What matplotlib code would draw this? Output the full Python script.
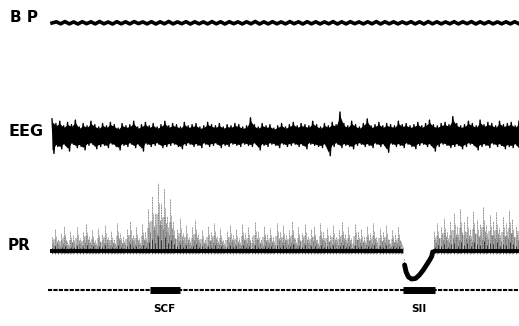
import numpy as np
import matplotlib
matplotlib.use("Agg")
import matplotlib.pyplot as plt

T_END = 60.0

# blood pressure pulse: trough / peak per half beat
bp = [0.0, 1.2, -0.8, 1.4, -0.9, 1.1, -1.0, 1.3, -0.7, 1.2, -0.9, 1.5, -0.8, 1.0,
      -1.0, 1.3, -0.8, 1.2, -0.9, 1.4, -0.6, 1.1, -0.9, 1.3, -1.0, 1.2, -0.8, 1.5,
      -0.9, 1.1, -0.7, 1.3, -1.0, 1.2, -0.8, 1.1, -0.9, 1.4, -0.8, 1.2, -1.0, 1.3,
      -0.7, 1.1, -0.9, 1.2, -0.8, 1.5, -1.0, 1.2, -0.9, 1.3, -0.8, 1.1, -0.9, 1.4,
      -0.7, 1.2, -1.0, 1.3, -0.8, 1.2, -0.9, 1.1, -0.8, 1.4, -1.0, 1.2, -0.9, 1.3,
      -0.7, 1.1, -0.9, 1.2, -0.8, 1.4, -1.0, 1.3, -0.8, 1.2, -0.9, 1.1, -0.7, 1.3,
      -0.9, 1.2, -1.0, 1.4, -0.8, 1.2, -0.9, 1.1, -0.8, 1.3, -0.9, 1.2, -0.7, 1.4,
      -1.0, 1.2, -0.8, 1.3, -0.9, 1.1, -0.8, 1.2, -0.9, 1.3, -0.8]

# EEG envelope every 0.5 s (upper excursion, lower excursion)
eeg_upper = [14, 10, 12, 8, 11, 9, 13, 7, 10, 8, 12, 9, 7, 10, 8, 11, 9, 6, 10, 8,
             9, 12, 7, 9, 11, 8, 10, 7, 9, 12, 8, 10, 9, 7, 11, 8, 9, 10, 7, 8,
             11, 9, 8, 10, 7, 9, 8, 10, 9, 7, 8, 15, 9, 7, 10, 8, 9, 6, 8, 10,
             7, 9, 11, 8, 10, 9, 8, 12, 9, 7, 10, 8, 11, 9, 20, 10, 8, 12, 9, 7,
             10, 14, 8, 9, 11, 8, 10, 9, 8, 12, 9, 10, 8, 9, 11, 8, 10, 13, 9, 8,
             10, 11, 9, 16, 10, 8, 9, 12, 10, 8, 13, 9, 11, 10, 8, 12, 9, 10, 11, 8, 12]
eeg_lower = [16, 10, 12, 9, 14, 8, 11, 10, 13, 9, 8, 12, 10, 9, 11, 8, 10, 13, 9, 10,
             8, 11, 9, 14, 8, 10, 9, 8, 11, 10, 9, 8, 10, 12, 9, 8, 10, 9, 11, 8,
             10, 9, 8, 11, 9, 10, 8, 9, 10, 8, 9, 10, 8, 13, 9, 10, 8, 9, 11, 8,
             10, 9, 8, 10, 9, 12, 8, 9, 10, 11, 9, 18, 10, 8, 11, 9, 10, 12, 9, 8,
             10, 9, 11, 8, 10, 9, 15, 8, 10, 9, 11, 8, 10, 12, 9, 8, 10, 9, 14, 10,
             8, 9, 11, 10, 9, 12, 10, 8, 9, 13, 10, 9, 11, 8, 10, 9, 12, 10, 11, 9, 14]

# pulse rate pen strokes, before and after the SII stimulus
pr_left = [14, 22, 12, 18, 25, 10, 20, 16, 24, 13, 19, 27, 15, 21, 11, 23, 17, 26, 14, 20,
           12, 28, 18, 15, 22, 30, 16, 24, 13, 27, 19, 42, 55, 38, 68, 48, 62, 35, 52, 30,
           22, 33, 18, 26, 14, 24, 31, 17, 21, 12, 25, 19, 28, 15, 23, 11, 20, 26, 16, 22,
           13, 27, 18, 24, 15, 29, 20, 12, 25, 17, 23, 14, 28, 19, 26, 16, 21, 30, 13, 24,
           18, 27, 15, 22, 25, 12, 28, 19, 23, 16, 26, 14, 21, 29, 17, 24, 13, 27, 20, 22,
           15, 25, 18, 28, 14, 23, 19, 26, 12, 21, 17, 24, 10]
pr_right = [20, 28, 24, 33, 19, 30, 38, 25, 42, 29, 35, 22, 40, 31, 27, 44, 26, 36, 30, 39,
            23, 34, 28, 41, 32, 25, 37]
pr_left_span = (-0.25, 45.1)
pr_right_span = (48.9, 60.0)

# bradycardia during SII stimulation
dip_t = [45.3, 45.5, 45.8, 46.2, 46.7, 47.2, 47.7, 48.2, 48.6, 48.8, 48.9]
dip_v = [-14, -21, -26, -28, -27.5, -24, -19, -13, -8, -5, -1]

# stimulus marker
stim_on = [12.6, 45.1]
stim_off = [16.4, 49.2]
stim_names = ["SCF", "SII"]

W, H = 519, 326
px_per_s = (W - 52) / T_END
xlim = (-52 / px_per_s, T_END)

fig = plt.figure(figsize=(W / 100, H / 100), dpi=100)
fig.patch.set_facecolor("white")


def strip(top, bottom):
    ax = fig.add_axes([0, 1 - bottom / H, 1, (bottom - top) / H])
    ax.set_xlim(*xlim)
    ax.axis("off")
    return ax


# BP
ax = strip(10, 36)
ax.set_ylim(-13, 13)
ax.plot(np.linspace(0, T_END, len(bp)), bp, color="black", lw=2.6, solid_joinstyle="round")

# EEG
ax = strip(110, 160)
ax.set_ylim(-25, 25)
te = np.linspace(0, T_END, len(eeg_upper))
up = np.array(eeg_upper, float)
lo = -np.array(eeg_lower, float)
ax.fill_between(te, lo * 0.95, up * 0.95, color="black", lw=0)
zig_t = np.ravel(np.column_stack([te, te + 0.25]))[:-1]
zig_v = np.ravel(np.column_stack([up, lo]))[:-1]
ax.plot(zig_t, zig_v * 1.15, color="black", lw=1.0)

# PR
ax = strip(170, 290)
ax.set_ylim(-39, 81)
tl = np.linspace(pr_left_span[0] + 0.2, pr_left_span[1] - 0.2, len(pr_left))
tr = np.linspace(pr_right_span[0] + 0.2, pr_right_span[1], len(pr_right))
for tt, hh in ((tl, pr_left), (tr, pr_right)):
    hh = np.array(hh, float)
    ax.fill_between(tt, 0, hh * 0.55, step="mid", color="#c4c4c4", lw=0)
    ax.vlines(tt, -3, hh, color="#7a7a7a", lw=0.7, alpha=0.8, linestyles=(0, (2, 0.6)))
    ax.vlines(tt + 0.13, -2, hh * 0.7, color="#8a8a8a", lw=0.6, alpha=0.75)
    ax.vlines(tt + 0.26, -2, hh * 0.45, color="#5a5a5a", lw=0.6, alpha=0.75)
    ax.vlines(tt + 0.07, -2, hh * 0.22, color="#333333", lw=0.7)
ax.plot(pr_left_span, [0, 0], color="black", lw=2.8, solid_capstyle="butt")
ax.plot(pr_right_span, [0, 0], color="black", lw=2.8, solid_capstyle="butt")
ax.vlines(dip_t[0] - 0.1, dip_v[0], -6, color="#777777", lw=0.7, linestyles=":")
ax.plot(dip_t, dip_v, color="black", lw=3.5, solid_capstyle="round")

# stimulus marker
ax = strip(280, 300)
ax.set_ylim(-10, 10)
ax.plot([-0.5, T_END], [0, 0], color="black", lw=1.5, dashes=(2, 0.6))
for a, b, name in zip(stim_on, stim_off, stim_names):
    ax.plot([a, b], [0, 0], color="black", lw=5, solid_capstyle="butt")
    ax.text((a + b) / 2, -14, name, ha="center", va="top", fontsize=7.5,
            fontweight="bold", clip_on=False)

# channel names
lab = dict(fontsize=11, fontweight="bold", va="center", ha="left", family="DejaVu Sans")
fig.text(10 / W, 1 - 17 / H, "B P", **lab)
fig.text(9 / W, 1 - 132 / H, "EEG", fontsize=11.5, fontweight="bold", va="center",
         ha="left")
fig.text(8 / W, 1 - 246 / H, "PR", **lab)

fig.savefig("out.png", dpi=100, facecolor="white")
